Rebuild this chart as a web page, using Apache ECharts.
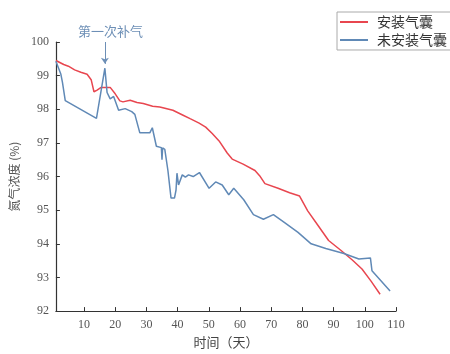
<!DOCTYPE html>
<html>
<head>
<meta charset="utf-8">
<script src="https://cdn.jsdelivr.net/npm/echarts@6/dist/echarts.min.js"></script>
<style>
  html, body { margin: 0; padding: 0; background: #fff; }
  #chart { width: 450px; height: 354px; }
</style>
</head>
<body>
<div id="chart"></div>
<script>
// 安装气囊
const withBagDays = [1, 3.5, 5, 7, 9, 11, 12.3, 13.2, 14.2, 15.5, 18.4, 20, 21.5, 22.5, 24.8, 27, 29, 32, 34.3, 38.5, 41.6, 44, 46.9, 49, 51.1, 53.3, 55.9, 57.5, 61, 64.8, 66.5, 68, 72.2, 75.9, 79.1, 81.7, 84.9, 88.4, 92.3, 96, 99.1, 102, 104.9]
const withBagVals = [99.45, 99.33, 99.28, 99.17, 99.1, 99.04, 98.88, 98.52, 98.57, 98.65, 98.65, 98.46, 98.25, 98.22, 98.27, 98.2, 98.17, 98.09, 98.07, 97.97, 97.83, 97.72, 97.59, 97.47, 97.28, 97.06, 96.7, 96.52, 96.37, 96.18, 96.0, 95.79, 95.65, 95.52, 95.42, 94.98, 94.56, 94.1, 93.81, 93.52, 93.25, 92.89, 92.5]
// 未安装气囊
const noBagDays = [1, 2.6, 3.1, 4, 14, 16.7, 17.4, 18.4, 19.5, 21.1, 23.2, 25.3, 26.3, 27.9, 31.1, 31.9, 33.2, 34.8, 35, 35.2, 35.9, 36.9, 37.9, 39, 39.5, 39.8, 40.3, 41.5, 42.5, 43.5, 45, 47, 50.1, 52.2, 54.3, 56.4, 58, 61.2, 64.3, 67.5, 70.7, 74.3, 78.6, 82.8, 87.5, 93.3, 98.1, 101.8, 102.3, 108.1]
const noBagVals = [99.43, 99.04, 98.8, 98.26, 97.73, 99.22, 98.5, 98.31, 98.38, 97.97, 98.02, 97.93, 97.85, 97.3, 97.3, 97.45, 96.9, 96.86, 96.5, 96.85, 96.81, 96.18, 95.36, 95.36, 95.6, 96.1, 95.75, 96.05, 95.98, 96.05, 96.0, 96.12, 95.65, 95.84, 95.75, 95.46, 95.65, 95.31, 94.87, 94.73, 94.87, 94.63, 94.34, 94.0, 93.86, 93.71, 93.55, 93.58, 93.2, 92.6]
const xTicks = [10, 20, 30, 40, 50, 60, 70, 80, 90, 100, 110]
const refillDay = 16.7

const zip = (xs, ys) => xs.map((x, i) => [x, ys[i]])

const serifFont = '"Liberation Serif", "Noto Sans CJK SC", serif'
const chart = echarts.init(document.getElementById('chart'))

chart.setOption({
  animation: false,
  grid: { left: 52, right: 54, top: 42, bottom: 38 },
  legend: {
    orient: 'vertical',
    left: 337,
    top: 12,
    padding: [3, 20, 3, 3],
    itemGap: 4,
    itemWidth: 28,
    itemHeight: 2,
    icon: 'rect',
    borderColor: '#aaa',
    borderWidth: 1,
    textStyle: { fontSize: 14, color: '#333', fontFamily: '"Noto Sans CJK SC"', padding: [0, 0, 0, 4] },
    data: ['安装气囊', '未安装气囊']
  },
  graphic: [{
    type: 'text',
    left: 78,
    top: 25,
    style: { text: '第一次补气', fontSize: 13, fill: '#6d8fb6', fontFamily: '"Noto Sans CJK SC"' }
  }],
  xAxis: {
    type: 'value',
    min: 1,
    max: 110,
    name: '时间（天）',
    nameLocation: 'middle',
    nameGap: 24,
    nameTextStyle: { fontSize: 13, color: '#444', fontFamily: '"Noto Sans CJK SC"' },
    splitLine: { show: false },
    axisLine: { lineStyle: { color: '#333', width: 1.2 } },
    axisTick: { inside: true, length: 4, customValues: xTicks, lineStyle: { color: '#333' } },
    axisLabel: { customValues: xTicks, margin: 8, fontSize: 12, color: '#555', fontFamily: serifFont }
  },
  yAxis: {
    type: 'value',
    min: 92,
    max: 100,
    interval: 1,
    name: '氮气浓度 (%)',
    nameLocation: 'middle',
    nameGap: 28,
    nameRotate: 90,
    nameTextStyle: { fontSize: 12, color: '#555', fontFamily: '"Noto Sans CJK SC"' },
    splitLine: { show: false },
    axisLine: { show: true, lineStyle: { color: '#333', width: 1.2 } },
    axisTick: { show: true, inside: true, length: 4, lineStyle: { color: '#333' } },
    axisLabel: { margin: 7, fontSize: 12, color: '#555', fontFamily: serifFont }
  },
  series: [
    {
      name: '安装气囊',
      type: 'line',
      showSymbol: false,
      color: '#e8464f',
      lineStyle: { width: 1.5 },
      data: zip(withBagDays, withBagVals)
    },
    {
      name: '未安装气囊',
      type: 'line',
      showSymbol: false,
      color: '#6089b6',
      lineStyle: { width: 1.5 },
      data: zip(noBagDays, noBagVals),
      markLine: {
        silent: true,
        symbol: ['none', 'arrow'],
        symbolSize: 6,
        label: { show: false },
        lineStyle: { color: '#6d8fb6', width: 1, type: 'solid' },
        data: [[{ coord: [refillDay, 100] }, { coord: [refillDay, 99.35] }]]
      }
    }
  ]
})
</script>
</body>
</html>
